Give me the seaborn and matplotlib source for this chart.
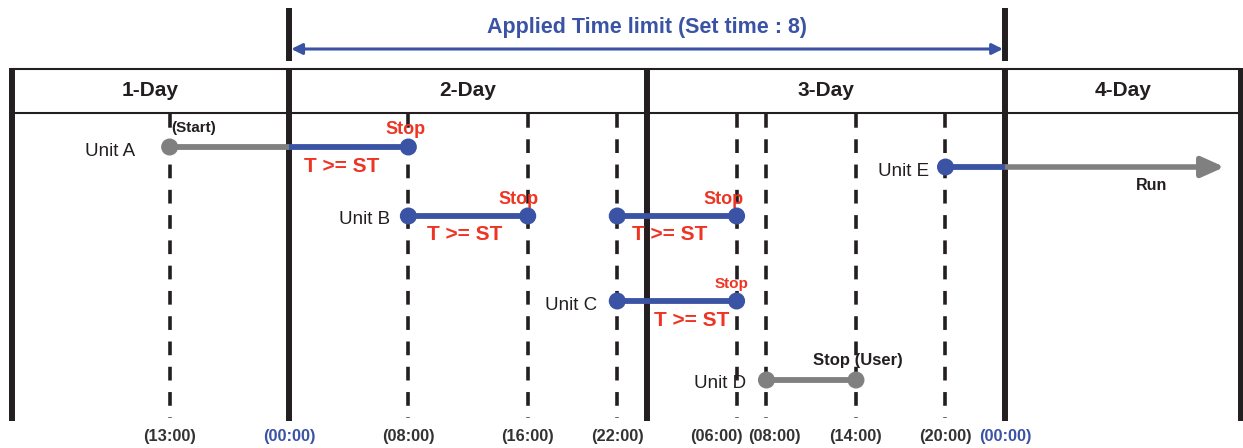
import numpy as np
import pandas as pd
import matplotlib.pyplot as plt
import seaborn as sns

sns.set_theme(style="white")
plt.rcParams["font.family"] = ["Liberation Sans", "DejaVu Sans"]

BLUE = "#3a53a4"
GREY = "#808080"
RED = "#ee3524"
INK = "#231f20"

# day columns (day 1 is drawn compressed, hours counted from start of day 2)
days = ["1-Day", "2-Day", "3-Day", "4-Day"]
day_edges = [-18.55, 0, 24, 48, 63.8]
limit_start, limit_end = 0, 48

time_labels = ["(13:00)", "(00:00)", "(08:00)", "(16:00)", "(22:00)",
               "(06:00)", "(08:00)", "(14:00)", "(20:00)", "(00:00)"]
time_pos = [-8, 0, 8, 16, 22, 30, 32, 38, 44, 48]

# unit segments
seg_unit = ["Unit A", "Unit A", "Unit B", "Unit B", "Unit C", "Unit D", "Unit E"]
seg_start = [-8, 0, 8, 22, 22, 32, 44]
seg_end = [0, 8, 16, 30, 30, 38, 48]
seg_kind = ["free", "limit", "limit", "limit", "limit", "free", "limit"]

# dots
dot_unit = ["Unit A", "Unit A", "Unit B", "Unit B", "Unit B", "Unit B",
            "Unit C", "Unit C", "Unit D", "Unit D", "Unit E"]
dot_time = [-8, 8, 8, 16, 22, 30, 22, 30, 32, 38, 44]
dot_kind = ["free", "limit", "limit", "limit", "limit", "limit",
            "limit", "limit", "free", "free", "limit"]

run_end = 62.7

# layout (pixel rows, y axis in pixels)
row_y = {"Unit A": 147, "Unit B": 216, "Unit C": 301, "Unit D": 380, "Unit E": 167}
colors = {"free": GREY, "limit": BLUE}

fig = plt.figure(figsize=(12.43, 4.48), dpi=100)
ax = fig.add_axes([0, 0, 1, 1])
ax.set_xlim(-19.37, 63.94)
ax.set_ylim(448, 0)
ax.axis("off")

# header band
ax.hlines([69, 113], day_edges[0], day_edges[-1], color=INK, lw=1.5)
for i, d in enumerate(days):
    ax.text((day_edges[i] + day_edges[i + 1]) / 2, 91, d, ha="center", va="center",
            fontsize=15, fontweight="bold", color=INK)

# day boundaries
ax.vlines(day_edges, 68, 421, color=INK, lw=4.3)
ax.vlines([limit_start, limit_end], 8, 61, color=INK, lw=4.3)

# dashed time lines
dashed = [t for t in time_pos if t not in (limit_start, limit_end)]
for t in dashed:
    ax.plot([t, t], [114, 418], color=INK, lw=2.6, dashes=(3.8, 3.2))

# time labels (06:00 / 08:00 of day 3 are pushed apart)
label_shift = {5: -20, 6: 8}
for i, (t, lab) in enumerate(zip(time_pos, time_labels)):
    c = BLUE if t in (limit_start, limit_end) else "#333333"
    ax.annotate(lab, (t, 436), xytext=(label_shift.get(i, 0), 0),
                textcoords="offset pixels", ha="center", va="center",
                fontsize=11.8, fontweight="bold", color=c)

# applied time limit arrow
ax.annotate("", xy=(limit_end - 0.15, 49), xytext=(limit_start + 0.15, 49),
            arrowprops=dict(arrowstyle="<|-|>", color=BLUE, lw=2.2,
                            mutation_scale=16, shrinkA=0, shrinkB=0))
ax.text((limit_start + limit_end) / 2, 27, "Applied Time limit (Set time : 8)",
        ha="center", va="center", fontsize=15.5, fontweight="bold", color=BLUE)

# run arrow for unit E
ax.annotate("", xy=(run_end, row_y["Unit E"]), xytext=(limit_end, row_y["Unit E"]),
            arrowprops=dict(arrowstyle="-|>,head_length=0.85,head_width=0.38",
                            color=GREY, lw=4, mutation_scale=16,
                            shrinkA=0, shrinkB=0))

# unit segments
for u, s, e, k in zip(seg_unit, seg_start, seg_end, seg_kind):
    ax.plot([s, e], [row_y[u], row_y[u]], color=colors[k], lw=4.2,
            solid_capstyle="butt", zorder=3)

dots = pd.DataFrame({"unit": dot_unit, "time": dot_time, "kind": dot_kind})
dots["y"] = dots["unit"].map(row_y)
sns.scatterplot(data=dots, x="time", y="y", hue="kind", palette=colors,
                s=150, linewidth=0, legend=False, zorder=4, ax=ax)

# unit labels
label_off = {"Unit A": -35, "Unit B": -18, "Unit C": -20, "Unit D": -20, "Unit E": -16}
for u in row_y:
    first = min(t for uu, t in zip(dot_unit, dot_time) if uu == u)
    ax.annotate(u, (first, row_y[u]), xytext=(label_off[u], -4),
                textcoords="offset pixels", ha="right", va="center",
                fontsize=13.5, color=INK)

# stop / condition labels
stops = [(8, "Unit A", 13, -3), (16, "Unit B", 13, -9), (30, "Unit B", 13, -13),
         (30, "Unit C", 11, -5)]
for t, u, fs, dx in stops:
    ax.annotate("Stop", (t, row_y[u]), xytext=(dx, 17), textcoords="offset pixels",
                ha="center", va="center", fontsize=fs, fontweight="bold", color=RED)

conds = [(4, "Unit A", -7), (12, "Unit B", -3), (26, "Unit B", -7), (26, "Unit C", 15)]
for t, u, dx in conds:
    ax.annotate("T >= ST", (t, row_y[u]), xytext=(dx, -19), textcoords="offset pixels",
                ha="center", va="center", fontsize=15, fontweight="bold", color=RED)

ax.annotate("(Start)", (-8, row_y["Unit A"]), xytext=(2, 19), textcoords="offset pixels",
            ha="left", va="center", fontsize=11, fontweight="bold", color=INK)
ax.annotate("Stop (User)", (38, row_y["Unit D"]), xytext=(2, 20), textcoords="offset pixels",
            ha="center", va="center", fontsize=12, fontweight="bold", color=INK)
ax.annotate("Run", (48, row_y["Unit E"]), xytext=(146, -18), textcoords="offset pixels",
            ha="center", va="center", fontsize=11.5, fontweight="bold", color=INK)

fig.savefig("out.png", dpi=100)
